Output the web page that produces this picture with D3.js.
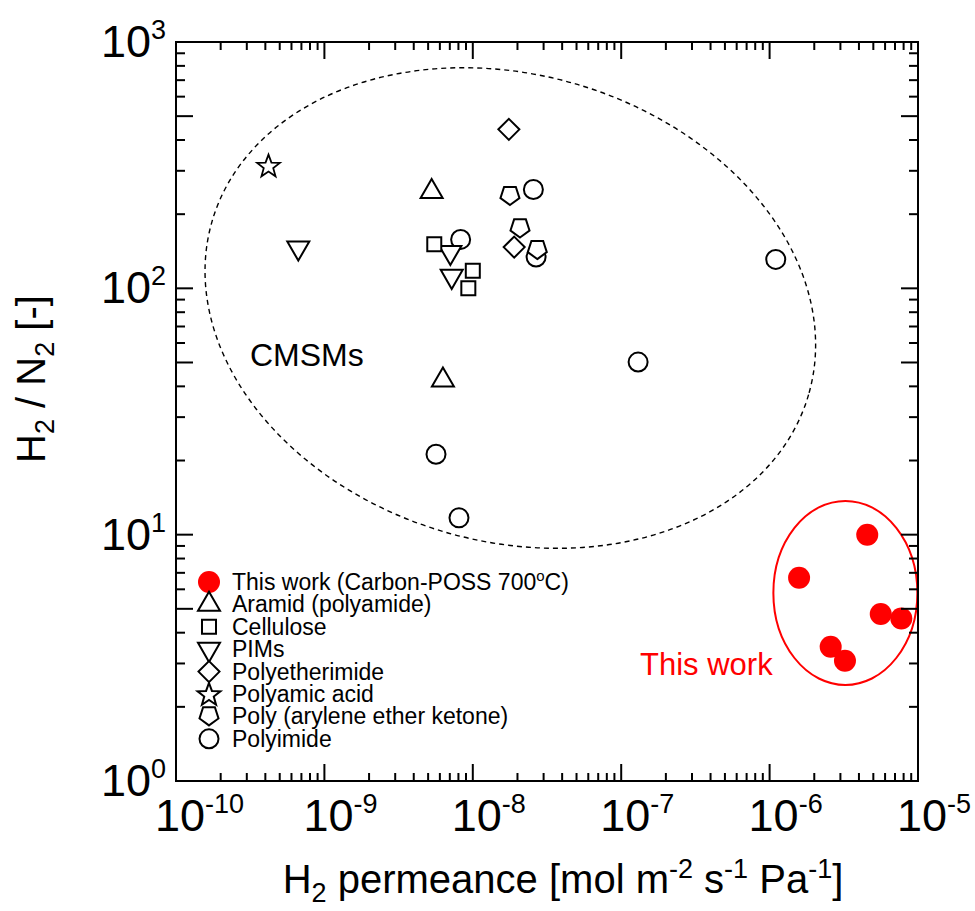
<!DOCTYPE html>
<html>
<head>
<meta charset="utf-8">
<script src="https://cdn.jsdelivr.net/npm/d3@7"></script>
<style>
body { margin: 0; background: #fff; }
text { font-family: Arial, "Liberation Sans", sans-serif; fill: #000; }
</style>
</head>
<body>
<script>
// Data: [H2 permeance (mol m-2 s-1 Pa-1), H2/N2 selectivity]
var thisWork = [[4.55e-6, 10.0], [1.58e-6, 6.68], [5.61e-6, 4.76], [7.72e-6, 4.57], [2.58e-6, 3.51], [3.22e-6, 3.08]];
var aramid = [[5.28e-9, 247], [6.29e-9, 42.4]];
var cellulose = [[5.5e-9, 151], [1.0e-8, 118], [9.33e-9, 100]];
var pims = [[6.67e-10, 146], [7.06e-9, 140], [7.21e-9, 112]];
var polyetherimide = [[1.75e-8, 442], [1.90e-8, 147]];
var polyamicAcid = [[4.2e-10, 315]];
var paek = [[1.78e-8, 237], [2.08e-8, 175], [2.72e-8, 143]];
var polyimide = [[2.56e-8, 252], [8.28e-9, 158], [2.67e-8, 134], [1.10e-6, 131], [1.30e-7, 50.2], [5.65e-9, 21.2], [8.07e-9, 11.7]];

var legendNames = ['This work (Carbon-POSS 700', 'Aramid (polyamide)', 'Cellulose', 'PIMs', 'Polyetherimide', 'Polyamic acid', 'Poly (arylene ether ketone)', 'Polyimide'];
var xTickExp = [-10, -9, -8, -7, -6, -5];
var yTickExp = [0, 1, 2, 3];

// annotation ellipses centres (data units)
var cmsmCentre = [1.79e-8, 83.2];
var workCentre = [3.24e-6, 5.8];

var series = [
	{name: legendNames[0], data: thisWork, shape: 'dot'},
	{name: legendNames[1], data: aramid, shape: 'triUp'},
	{name: legendNames[2], data: cellulose, shape: 'square'},
	{name: legendNames[3], data: pims, shape: 'triDown'},
	{name: legendNames[4], data: polyetherimide, shape: 'diamond'},
	{name: legendNames[5], data: polyamicAcid, shape: 'star'},
	{name: legendNames[6], data: paek, shape: 'pentagon'},
	{name: legendNames[7], data: polyimide, shape: 'circle'}
];

var width = 975, height = 911;
var plotLeft = 176, plotRight = 918, plotTop = 42, plotBottom = 781;

var svg = d3.select('body')
	.append('svg')
	.attr('width', width)
	.attr('height', height);

var xScale = d3.scaleLog().domain([1e-10, 1e-5]).range([plotLeft, plotRight]);
var yScale = d3.scaleLog().domain([1, 1000]).range([plotBottom, plotTop]);

// symbol paths centred on 0,0
function shapePath(shape) {
	var p = [], i, a;
	if (shape === 'circle' || shape === 'dot') {
		var r = shape === 'dot' ? 11 : 9.5;
		return 'M' + (-r) + ',0a' + r + ',' + r + ' 0 1,0 ' + (2 * r) + ',0a' + r + ',' + r + ' 0 1,0 ' + (-2 * r) + ',0Z';
	}
	if (shape === 'triUp' || shape === 'triDown') {
		var s = 22, h = s * Math.sqrt(3) / 2, k = shape === 'triUp' ? 1 : -1;
		p = [[0, -k * 2 * h / 3], [s / 2, k * h / 3], [-s / 2, k * h / 3]];
	}
	if (shape === 'square') {
		p = [[-7, -7], [7, -7], [7, 7], [-7, 7]];
	}
	if (shape === 'diamond') {
		p = [[0, -10.5], [10.5, 0], [0, 10.5], [-10.5, 0]];
	}
	if (shape === 'pentagon') {
		for (i = 0; i < 5; i++) {
			a = i * 2 * Math.PI / 5;
			p.push([10 * Math.sin(a), 10 * Math.cos(a) - 1]);
		}
	}
	if (shape === 'star') {
		for (i = 0; i < 10; i++) {
			a = i * Math.PI / 5;
			var rr = i % 2 === 0 ? 12 : 5;
			p.push([rr * Math.sin(a), -rr * Math.cos(a) + 1]);
		}
	}
	return 'M' + p.map(function(d){ return d[0].toFixed(2) + ',' + d[1].toFixed(2); }).join('L') + 'Z';
}

// dashed CMSM ellipse
svg.append('ellipse')
	.attr('transform', 'translate(' + xScale(cmsmCentre[0]) + ',' + yScale(cmsmCentre[1]) + ') rotate(16.2)')
	.attr('rx', 310.6)
	.attr('ry', 233.4)
	.style('fill', 'none')
	.style('stroke', '#000')
	.style('stroke-width', 1.4)
	.style('stroke-dasharray', '5,4');

// red ellipse round this work
svg.append('ellipse')
	.attr('cx', xScale(workCentre[0]))
	.attr('cy', yScale(workCentre[1]))
	.attr('rx', 72)
	.attr('ry', 92)
	.style('fill', 'none')
	.style('stroke', '#ff0000')
	.style('stroke-width', 2);

// points, drawn last series first
series.slice().reverse().forEach(function(s){
	svg.append('g').selectAll('path')
		.data(s.data)
		.enter().append('path')
		.attr('d', shapePath(s.shape))
		.attr('transform', function(d){ return 'translate(' + xScale(d[0]) + ',' + yScale(d[1]) + ')'; })
		.style('fill', s.shape === 'dot' ? '#ff0000' : '#fff')
		.style('stroke', s.shape === 'dot' ? 'none' : '#000')
		.style('stroke-width', s.shape === 'star' ? 1.8 : 2)
		.style('stroke-linejoin', 'miter');
});

// frame
svg.append('rect')
	.attr('x', plotLeft)
	.attr('y', plotTop)
	.attr('width', plotRight - plotLeft)
	.attr('height', plotBottom - plotTop)
	.style('fill', 'none')
	.style('stroke', '#000')
	.style('stroke-width', 2);

// ticks (inside, on all four sides)
var xTicks = xScale.ticks();
var yTicks = yScale.ticks();
function isDecade(v) { return Math.abs(Math.log10(v) - Math.round(Math.log10(v))) < 1e-6; }
function isFive(v) { return Math.abs(v / Math.pow(10, Math.floor(Math.log10(v) + 1e-9)) - 5) < 1e-6; }

var tg = svg.append('g').style('stroke', '#000').style('stroke-width', 2);
xTicks.forEach(function(v){
	var len = isDecade(v) ? 17 : 8;
	var x = xScale(v);
	tg.append('line').attr('x1', x).attr('x2', x).attr('y1', plotBottom).attr('y2', plotBottom - len);
	tg.append('line').attr('x1', x).attr('x2', x).attr('y1', plotTop).attr('y2', plotTop + len);
});
yTicks.forEach(function(v){
	var len = (isDecade(v) || isFive(v)) ? 17 : 9;
	var y = yScale(v);
	tg.append('line').attr('y1', y).attr('y2', y).attr('x1', plotLeft).attr('x2', plotLeft + len);
	tg.append('line').attr('y1', y).attr('y2', y).attr('x1', plotRight).attr('x2', plotRight - len);
});

// tick labels
xTickExp.forEach(function(e){
	var t = svg.append('text')
		.attr('x', xScale(Math.pow(10, e)) - 21)
		.attr('y', 831)
		.style('font-size', '45px');
	t.append('tspan').text('10');
	t.append('tspan').attr('dy', -18).style('font-size', '27px').text(e);
});
yTickExp.forEach(function(e){
	var t = svg.append('text')
		.attr('x', 166)
		.attr('y', yScale(Math.pow(10, e)) + 15)
		.attr('text-anchor', 'end')
		.style('font-size', '45px');
	t.append('tspan').text('10');
	t.append('tspan').attr('dy', -18).style('font-size', '27px').text(e);
});

// axis titles
var xt = svg.append('text')
	.attr('x', 563)
	.attr('y', 893)
	.attr('text-anchor', 'middle')
	.style('font-size', '40px');
xt.append('tspan').text('H');
xt.append('tspan').attr('dy', 9).style('font-size', '27px').text('2');
xt.append('tspan').attr('dy', -9).text(' permeance [mol m');
xt.append('tspan').attr('dy', -15).style('font-size', '27px').text('-2');
xt.append('tspan').attr('dy', 15).text(' s');
xt.append('tspan').attr('dy', -15).style('font-size', '27px').text('-1');
xt.append('tspan').attr('dy', 15).text(' Pa');
xt.append('tspan').attr('dy', -15).style('font-size', '27px').text('-1');
xt.append('tspan').attr('dy', 15).text(']');

var yt = svg.append('text')
	.attr('transform', 'translate(45,379) rotate(-90)')
	.attr('text-anchor', 'middle')
	.style('font-size', '40px');
yt.append('tspan').text('H');
yt.append('tspan').attr('dy', 9).style('font-size', '27px').text('2');
yt.append('tspan').attr('dy', -9).text(' / N');
yt.append('tspan').attr('dy', 9).style('font-size', '27px').text('2');
yt.append('tspan').attr('dy', -9).text(' [-]');

// annotations
svg.append('text')
	.attr('x', 250)
	.attr('y', 366)
	.style('font-size', '32px')
	.text('CMSMs');
svg.append('text')
	.attr('x', 640)
	.attr('y', 675)
	.style('font-size', '31px')
	.style('fill', '#ff0000')
	.text('This work');

// legend
var legend = svg.selectAll('.legend')
	.data(series)
	.enter().append('g')
	.attr('class', 'legend')
	.attr('transform', function(d, i){ return 'translate(209,' + (590 + i * 22.4) + ')'; });
legend.append('path')
	.attr('d', function(d){ return shapePath(d.shape); })
	.attr('transform', 'translate(0,-8)')
	.style('fill', function(d){ return d.shape === 'dot' ? '#ff0000' : '#fff'; })
	.style('stroke', function(d){ return d.shape === 'dot' ? 'none' : '#000'; })
	.style('stroke-width', 2);
var lt = legend.append('text')
	.attr('x', 23)
	.attr('y', 0)
	.style('font-size', '23px');
lt.append('tspan').text(function(d){ return d.name; });
lt.filter(function(d, i){ return i === 0; }).append('tspan').attr('dy', -9).style('font-size', '15px').text('o');
lt.filter(function(d, i){ return i === 0; }).append('tspan').attr('dy', 9).text('C)');
</script>
</body>
</html>
